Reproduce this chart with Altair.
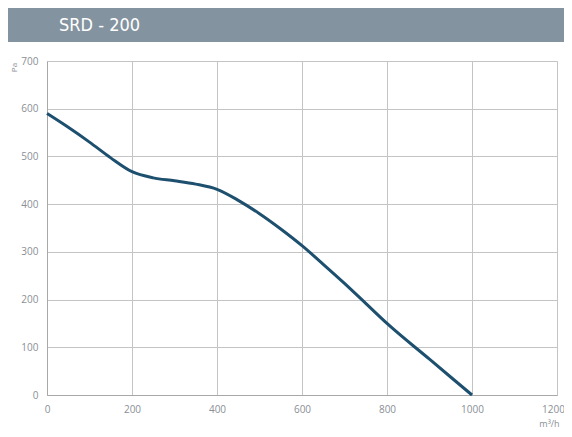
import altair as alt
import pandas as pd

flow = [0, 50, 100, 150, 200, 250, 300, 350, 400, 450, 500, 550, 600, 650, 700, 750, 800, 900, 1000]
pressure = [590, 561, 530, 497, 468, 455, 449, 442, 431, 408, 380, 348, 313, 274, 234, 192, 150, 75, 0]
x_ticks = [0, 200, 400, 600, 800, 1000, 1200]
y_ticks = [0, 100, 200, 300, 400, 500, 600, 700]
title_text = "SRD - 200"

df = pd.DataFrame({"flow": flow, "pressure": pressure})
one = pd.DataFrame({"a": [0]})

W, H = 510, 334
LABEL_COLOR = "#8a8f96"
GRID = "#c4c4c4"

band = alt.Chart(one).mark_rect(color="#8493a0", clip=False).encode(
    x=alt.value(-39), x2=alt.value(517), y=alt.value(-53), y2=alt.value(-19)
)
title = alt.Chart(one).mark_text(
    text=title_text, color="white", font="DejaVu Sans Condensed, Roboto", fontSize=18,
    fontWeight="normal", align="left", baseline="middle", clip=False
).encode(x=alt.value(12), y=alt.value(-35))

line = alt.Chart(df).mark_line(color="#1d4f6e", strokeWidth=3, interpolate="monotone").encode(
    x=alt.X("flow:Q", scale=alt.Scale(domain=[0, 1200], nice=False),
            axis=alt.Axis(values=x_ticks, format="d", title="m³/h", grid=True, gridColor=GRID,
                          domainColor="#a8a8a8", ticks=False, labelPadding=9,
                          labelColor=LABEL_COLOR, labelFont="Open Sans", labelFontSize=10,
                          labelOffset={"condition": {"test": "datum.value == 1200", "value": -4}, "value": 0},
                          titleColor=LABEL_COLOR, titleFont="Open Sans", titleFontSize=9,
                          titleFontWeight="normal", titleX=502, titleY=31,
                          titleAlign="center", titleBaseline="alphabetic", labelFlush=False)),
    y=alt.Y("pressure:Q", scale=alt.Scale(domain=[0, 700], nice=False),
            axis=alt.Axis(values=y_ticks, format="d", title="Pa", grid=True, gridColor=GRID,
                          domainColor="#a8a8a8", ticks=False, labelPadding=9,
                          labelColor=LABEL_COLOR, labelFont="Open Sans", labelFontSize=10,
                          titleColor=LABEL_COLOR, titleFont="Open Sans", titleFontSize=8,
                          titleFontWeight="normal", titleAngle=270, titleX=-29, titleY=6,
                          titleAlign="center", titleBaseline="bottom", labelFlush=False)),
)

chart = alt.layer(band, title, line).properties(
    width=W, height=H,
    autosize=alt.AutoSizeParams(type="none"),
    padding={"left": 39, "top": 53, "right": 7, "bottom": 34},
).configure_view(stroke=GRID).configure(background="white")

chart.save("out.html", embed_options={"renderer": "svg", "actions": False})
